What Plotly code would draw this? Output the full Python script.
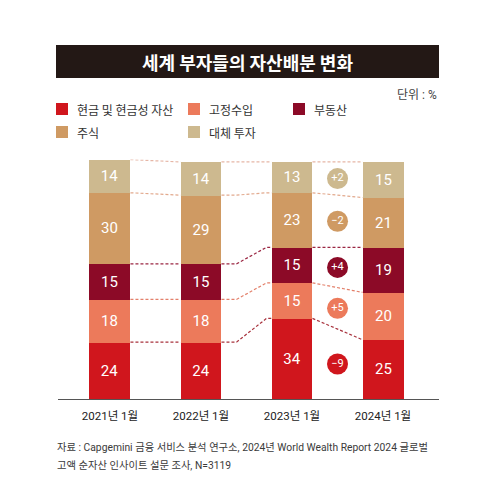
import numpy as np
import plotly.graph_objects as go

periods = ["2021년 1월", "2022년 1월", "2023년 1월", "2024년 1월"]
series = ["현금 및 현금성 자산", "고정수입", "부동산", "주식", "대체 투자"]
cash = [24, 24, 34, 25]
fixed_income = [18, 18, 15, 20]
real_estate = [15, 15, 15, 19]
stocks = [30, 29, 23, 21]
alternatives = [14, 14, 13, 15]
values = [cash, fixed_income, real_estate, stocks, alternatives]

colors = ["#d0161d", "#ec7a5b", "#8c0a27", "#cf9a63", "#cdb98f"]
line_colors = ["#a8323d", "#e3806b", "#9b2743", "#e2a98d", "#e6b6a6"]

W, H = 478, 491
FONT = "Roboto, Noto Sans CJK KR, sans-serif"
KFONT = "Noto Sans CJK KR, sans-serif"

def px(x):
    return x / W

def py(y):
    return 1 - y / H

fig = go.Figure()
xs = np.arange(len(periods))
bar_w = 0.45

for name, vals, col in zip(series, values, colors):
    fig.add_trace(go.Bar(
        x=xs, y=vals, name=name, marker=dict(color=col, line=dict(width=0)),
        width=bar_w, text=vals, texttemplate="%{text}", textposition="inside",
        insidetextanchor="middle", textangle=0,
        textfont=dict(color="white", size=15, family=FONT),
        hoverinfo="skip", showlegend=False,
    ))

# dashed connectors at the top of each segment
tops = np.cumsum(np.array(values), axis=0)
bends = [(0, 1), (0.3, 0.9), (0, 1)]
for k in range(len(series)):
    lx, ly = [], []
    for i in range(len(periods) - 1):
        xr, xl = xs[i] + bar_w / 2, xs[i + 1] - bar_w / 2
        g = xl - xr
        b1, b2 = bends[i]
        lx += [xr, xr + b1 * g, xr + b2 * g, xl, None]
        ly += [tops[k, i], tops[k, i], tops[k, i + 1], tops[k, i + 1], None]
    fig.add_trace(go.Scatter(
        x=lx, y=ly, mode="lines", showlegend=False, hoverinfo="skip",
        line=dict(color=line_colors[k], width=1.2, dash="3px,2px"),
    ))

# change badges between 2023 and 2024
mids = tops - np.array(values) / 2
for k in range(len(series)):
    d = values[k][3] - values[k][2]
    fig.add_trace(go.Scatter(
        x=[(xs[2] + xs[3]) / 2], y=[(mids[k, 2] + mids[k, 3]) / 2],
        mode="markers+text", text=[f"{d:+d}".replace("-", "−")],
        textposition="middle center",
        textfont=dict(color="white", size=11, family=FONT),
        marker=dict(size=21, color=colors[k], line=dict(width=0)),
        showlegend=False, hoverinfo="skip", cliponaxis=False,
    ))

shapes = [dict(type="rect", xref="paper", yref="paper",
               x0=px(48), x1=px(431), y0=py(70), y1=py(37),
               fillcolor="#231815", line=dict(width=0), layer="below")]
annotations = [
    dict(text="<b>세계 부자들의 자산배분 변화</b>", x=px(239), y=py(54),
         font=dict(color="white", size=18, family=KFONT)),
    dict(text="단위 : %", x=px(431), y=py(87), xanchor="right",
         font=dict(color="#444", size=12, family=FONT)),
    dict(text="자료 : Capgemini 금융 서비스 분석 연구소, 2024년 World Wealth Report 2024 글로벌",
         x=px(47), y=py(439), xanchor="left",
         font=dict(color="#3a3a3a", size=10.3, family=FONT)),
    dict(text="고액 순자산 인사이트 설문 조사, N=3119",
         x=px(47), y=py(457), xanchor="left",
         font=dict(color="#3a3a3a", size=10.3, family=FONT)),
]

leg_pos = [(48, 101), (180, 101), (285, 101), (48, 124), (180, 124)]
for (lx0, ly0), name, col in zip(leg_pos, series, colors):
    shapes.append(dict(type="rect", xref="paper", yref="paper",
                       x0=px(lx0), x1=px(lx0 + 12), y0=py(ly0 + 6), y1=py(ly0 - 6),
                       fillcolor=col, line=dict(width=0)))
    annotations.append(dict(text=name, x=px(lx0 + 19), y=py(ly0), xanchor="left",
                            font=dict(color="#333", size=12, family=KFONT)))

for a in annotations:
    a.update(xref="paper", yref="paper", showarrow=False)
    a.setdefault("yanchor", "middle")
    a.setdefault("xanchor", "center")

fig.update_layout(
    width=W, height=H, margin=dict(l=0, r=0, t=0, b=0),
    paper_bgcolor="white", plot_bgcolor="white",
    barmode="stack", bargap=0, shapes=shapes, annotations=annotations,
    xaxis=dict(domain=[px(50), px(431)], range=[-0.571, 3.615],
               tickvals=xs, ticktext=periods, showgrid=False, zeroline=False,
               showline=True, linecolor="#555", linewidth=1,
               ticks="outside", ticklen=6, tickcolor="rgba(0,0,0,0)",
               tickfont=dict(color="#222", size=11.5, family=FONT)),
    yaxis=dict(domain=[py(391), py(151.6)], range=[0, 101], visible=False,
               showgrid=False, zeroline=False),
)

fig.write_html("out.html")
